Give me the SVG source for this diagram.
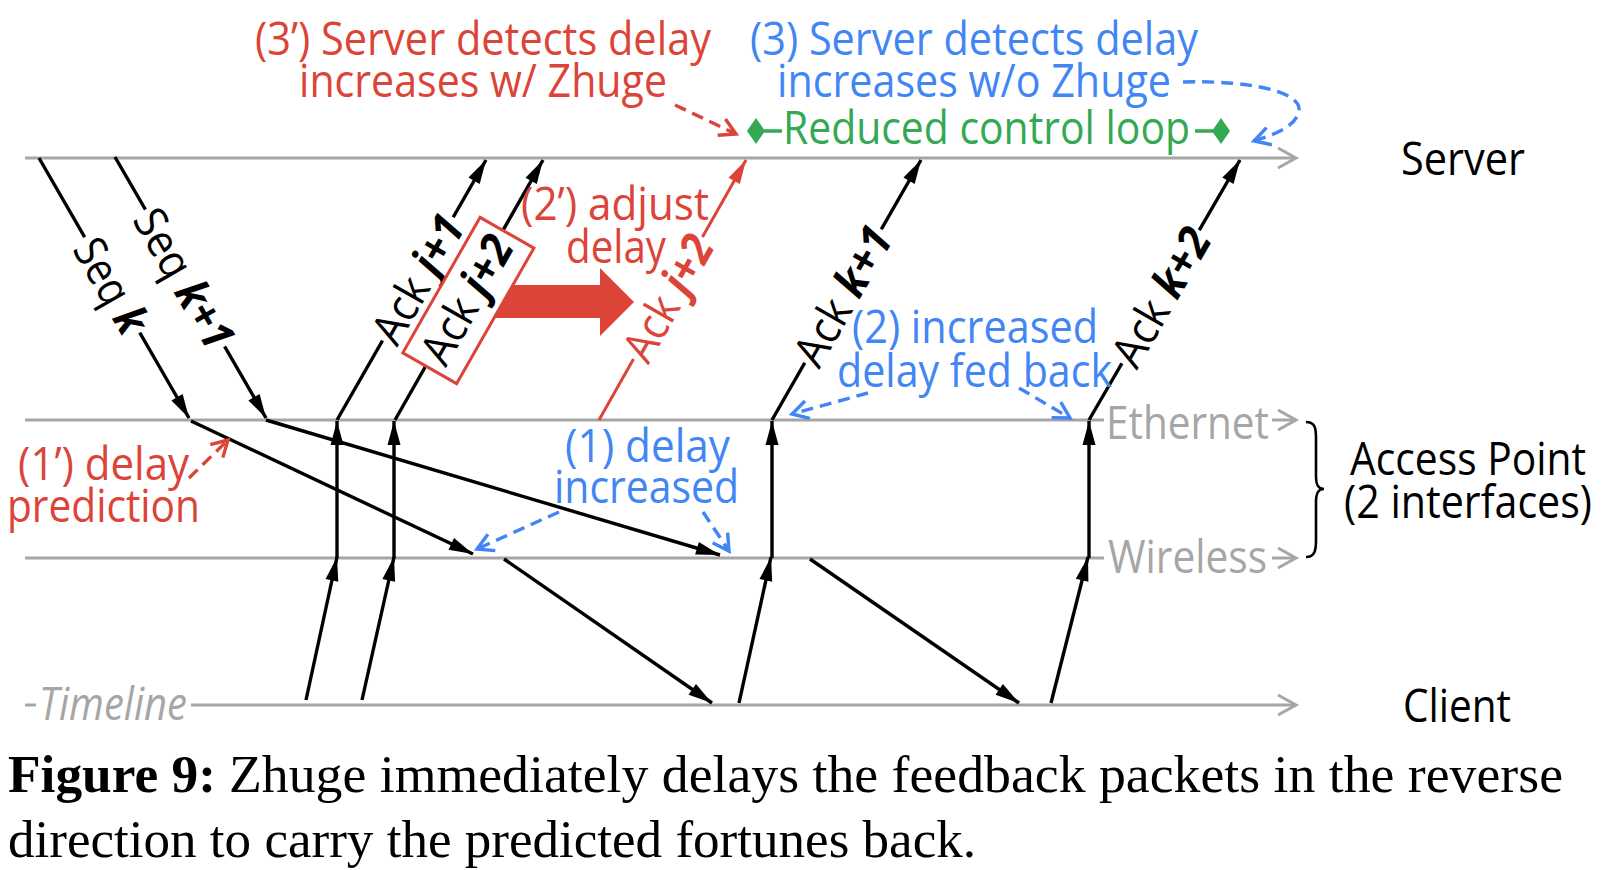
<svg xmlns="http://www.w3.org/2000/svg" width="1616" height="870" viewBox="0 0 1616 870">
<style>
.t{font-family:"Open Sans","Noto Sans","DejaVu Sans",sans-serif;font-size:46px;font-weight:500}
.big{font-size:46px}
.rl{font-size:45px}
.red{fill:#DB4437}
.blue{fill:#4285F4}
.green{fill:#34A853}
.gray{fill:#A6A6A6}
.blk{fill:#000}
.b{font-weight:bold;font-style:italic}
.tl{stroke:#A6A6A6;stroke-width:3;fill:none}
.pk{stroke:#000;stroke-width:3.4;fill:none;marker-end:url(#ah)}
.pkr{stroke:#DB4437;stroke-width:3;fill:none;marker-end:url(#ahr)}
.dr{stroke:#DB4437;stroke-width:3.4;fill:none;stroke-dasharray:12 7;marker-end:url(#chr)}
.db{stroke:#4285F4;stroke-width:3.4;fill:none;stroke-dasharray:12 7;marker-end:url(#chb)}
.gap{fill:#fff}
.cap{font-family:"Liberation Serif","Times New Roman",serif;font-size:52px;fill:#000}
</style>
<defs>
<marker id="ah" markerUnits="userSpaceOnUse" markerWidth="26" markerHeight="14" refX="24" refY="7" orient="auto" overflow="visible"><path d="M0,0.5 L24,7 L0,13.5 z" fill="#000"/></marker>
<marker id="ahr" markerUnits="userSpaceOnUse" markerWidth="26" markerHeight="14" refX="24" refY="7" orient="auto" overflow="visible"><path d="M0,0.5 L24,7 L0,13.5 z" fill="#DB4437"/></marker>
<marker id="chg" markerUnits="userSpaceOnUse" markerWidth="20" markerHeight="22" refX="0" refY="0" orient="auto" overflow="visible"><path d="M-18,-10 L0,0 L-18,10" fill="none" stroke="#A6A6A6" stroke-width="3"/></marker>
<marker id="chr" markerUnits="userSpaceOnUse" markerWidth="20" markerHeight="22" refX="0" refY="0" orient="auto" overflow="visible"><path d="M-16,-9 L0,0 L-16,9" fill="none" stroke="#DB4437" stroke-width="3.4"/></marker>
<marker id="chb" markerUnits="userSpaceOnUse" markerWidth="20" markerHeight="22" refX="0" refY="0" orient="auto" overflow="visible"><path d="M-16,-9 L0,0 L-16,9" fill="none" stroke="#4285F4" stroke-width="3.4"/></marker>
<path id="dia" d="M0,0 L9,-13 L18,0 L9,13 z" fill="#34A853"/>
</defs>
<rect width="1616" height="870" fill="#fff"/>

<g id="lifelines">
<g id="server">
<path class="tl" d="M25,158 L1296,158" marker-end="url(#chg)"/>
<text class="t big blk" x="1401" y="175" textLength="124" lengthAdjust="spacingAndGlyphs">Server</text>
</g>
<g id="access-point">
<path class="tl" d="M25,420 L1104,420"/>
<path class="tl" d="M1272,420 L1296,420" marker-end="url(#chg)"/>
<text class="t gray" x="1106" y="439" textLength="163" lengthAdjust="spacingAndGlyphs">Ethernet</text>
<path class="tl" d="M25,558 L1104,558"/>
<path class="tl" d="M1272,558 L1296,558" marker-end="url(#chg)"/>
<text class="t gray" x="1108" y="573" textLength="159" lengthAdjust="spacingAndGlyphs">Wireless</text>
<path d="M1306,422 C1315,422 1316,428 1316,438 L1316,476 C1316,485 1318,489 1324,489 C1318,489 1316,493 1316,502 L1316,540 C1316,550 1315,557 1306,557" fill="none" stroke="#000" stroke-width="2.6"/>
<text class="t big blk" x="1350" y="475" textLength="236" lengthAdjust="spacingAndGlyphs">Access Point</text>
<text class="t big blk" x="1344" y="518" textLength="248" lengthAdjust="spacingAndGlyphs">(2 interfaces)</text>
</g>
<g id="client">
<path class="tl" d="M25,705 L36,705"/>
<path class="tl" d="M191,705 L1296,705" marker-end="url(#chg)"/>
<text class="t gray" x="39" y="720" font-style="italic" textLength="148" lengthAdjust="spacingAndGlyphs">Timeline</text>
<text class="t big blk" x="1403" y="722" textLength="108" lengthAdjust="spacingAndGlyphs">Client</text>
</g>
</g>

<g id="connectors">
<path class="pk" d="M39,158 L189,418"/>
<path class="pk" d="M115,157 L266,418"/>
<path class="pk" d="M191,421 L473,554"/>
<path class="pk" d="M266,420 L720,555"/>
<path class="pk" d="M504,559 L712,703"/>
<path class="pk" d="M810,559 L1019,703"/>
<path class="pk" d="M306,700 L337,557"/>
<path class="pk" d="M362,700 L394,557"/>
<path class="pk" d="M739,703 L771,557"/>
<path class="pk" d="M1051,703 L1088,557"/>
<path class="pk" d="M337,558 L337,421"/>
<path class="pk" d="M394,558 L394,421"/>
<path class="pk" d="M772,558 L772,421"/>
<path class="pk" d="M1089,558 L1089,421"/>
<path class="pk" d="M337,420 L486,160"/>
<path class="pk" d="M395,420 L543,160"/>
<path class="pk" d="M772,420 L921,160"/>
<path class="pk" d="M1089,420 L1240,160"/>
<path class="pkr" d="M599,420 L746,160"/>
<path class="db" d="M559,512 L477,549"/>
<path class="db" d="M703,512 L729,551"/>
<path class="db" d="M868,393 L792,414"/>
<path class="db" d="M1019,388 L1070,418"/>
<path class="db" d="M1183,82 C1250,80 1301,92 1299,110 C1297,126 1276,134 1254,141"/>
<path class="dr" d="M675,105 L736,134"/>
<path class="dr" d="M189,478 L228,440"/>
</g>

<g id="delay-shift">
<polygon points="490,285 600,285 600,268 634,302 600,336 600,318 490,318" fill="#DB4437"/>
</g>

<g id="packet-labels">
<g id="lbl-seq-k" transform="translate(112,285) rotate(60)"><rect class="gap" x="-55" y="-6" width="110" height="12"/><text class="t rl blk" x="0" y="17" text-anchor="middle" textLength="102" lengthAdjust="spacingAndGlyphs">Seq <tspan class="b">k</tspan></text></g>
<g id="lbl-seq-k1" transform="translate(185,278) rotate(60)"><rect class="gap" x="-79" y="-6" width="158" height="12"/><text class="t rl blk" x="0" y="17" text-anchor="middle" textLength="154" lengthAdjust="spacingAndGlyphs">Seq <tspan class="b">k+1</tspan></text></g>
<g id="lbl-ack-j1" transform="translate(418,279) rotate(-60.2)"><rect class="gap" x="-71" y="-6" width="142" height="12"/><text class="t rl blk" x="0" y="16" text-anchor="middle" textLength="140" lengthAdjust="spacingAndGlyphs">Ack <tspan class="b">j+1</tspan></text></g>
<g id="lbl-ack-j2" transform="translate(464,298) rotate(-60.3)"><rect x="-78" y="-26" width="156" height="62" fill="#fff" stroke="#DB4437" stroke-width="3"/><text class="t rl blk" x="0" y="19" text-anchor="middle" textLength="140" lengthAdjust="spacingAndGlyphs">Ack <tspan class="b">j+2</tspan></text></g>
<g id="lbl-ack-j2-adj" transform="translate(668,298) rotate(-60.5)"><rect class="gap" x="-70" y="-6" width="140" height="12"/><text class="t rl red" x="0" y="16" text-anchor="middle" textLength="137" lengthAdjust="spacingAndGlyphs">Ack <tspan class="b">j+2</tspan></text></g>
<g id="lbl-ack-k1" transform="translate(843,296) rotate(-60.2)"><rect class="gap" x="-77" y="-6" width="154" height="12"/><text class="t rl blk" x="0" y="16" text-anchor="middle" textLength="152" lengthAdjust="spacingAndGlyphs">Ack <tspan class="b">k+1</tspan></text></g>
<g id="lbl-ack-k2" transform="translate(1161,297) rotate(-59.9)"><rect class="gap" x="-77" y="-6" width="154" height="12"/><text class="t rl blk" x="0" y="16" text-anchor="middle" textLength="152" lengthAdjust="spacingAndGlyphs">Ack <tspan class="b">k+2</tspan></text></g>
</g>

<g id="control-loop">
<path d="M764,131 L782,131 M1195,131 L1213,131" stroke="#34A853" stroke-width="3.6" fill="none"/>
<use href="#dia" x="747" y="131"/>
<use href="#dia" x="1212" y="131"/>
<text class="t green" x="783" y="144" font-size="48" textLength="407" lengthAdjust="spacingAndGlyphs">Reduced control loop</text>
</g>

<g id="annotations">
<g id="note-3p"><text class="t red" x="255" y="55" textLength="456" lengthAdjust="spacingAndGlyphs">(3’) Server detects delay</text><text class="t red" x="299" y="97" textLength="368" lengthAdjust="spacingAndGlyphs">increases w/ Zhuge</text></g>
<g id="note-3"><text class="t blue" x="750" y="55" textLength="448" lengthAdjust="spacingAndGlyphs">(3) Server detects delay</text><text class="t blue" x="777" y="97" textLength="394" lengthAdjust="spacingAndGlyphs">increases w/o Zhuge</text></g>
<g id="note-2p"><text class="t red" x="521" y="220" textLength="188" lengthAdjust="spacingAndGlyphs">(2’) adjust</text><text class="t red" x="566" y="263" textLength="100" lengthAdjust="spacingAndGlyphs">delay</text></g>
<g id="note-2"><text class="t blue" x="852" y="343" textLength="246" lengthAdjust="spacingAndGlyphs">(2) increased</text><text class="t blue" x="837" y="387" textLength="275" lengthAdjust="spacingAndGlyphs">delay fed back</text></g>
<g id="note-1"><text class="t blue" x="565" y="462" textLength="165" lengthAdjust="spacingAndGlyphs">(1) delay</text><text class="t blue" x="554" y="503" textLength="185" lengthAdjust="spacingAndGlyphs">increased</text></g>
<g id="note-1p"><text class="t red" x="18" y="480" textLength="171" lengthAdjust="spacingAndGlyphs">(1’) delay</text><text class="t red" x="7" y="522" textLength="193" lengthAdjust="spacingAndGlyphs">prediction</text></g>
</g>

<g id="caption">
<text class="cap" x="8" y="792" font-weight="bold" textLength="208" lengthAdjust="spacingAndGlyphs">Figure 9:</text>
<text class="cap" x="229" y="792" textLength="1334" lengthAdjust="spacingAndGlyphs">Zhuge immediately delays the feedback packets in the reverse</text>
<text class="cap" x="8" y="857" textLength="968" lengthAdjust="spacingAndGlyphs">direction to carry the predicted fortunes back.</text>
</g>
</svg>
